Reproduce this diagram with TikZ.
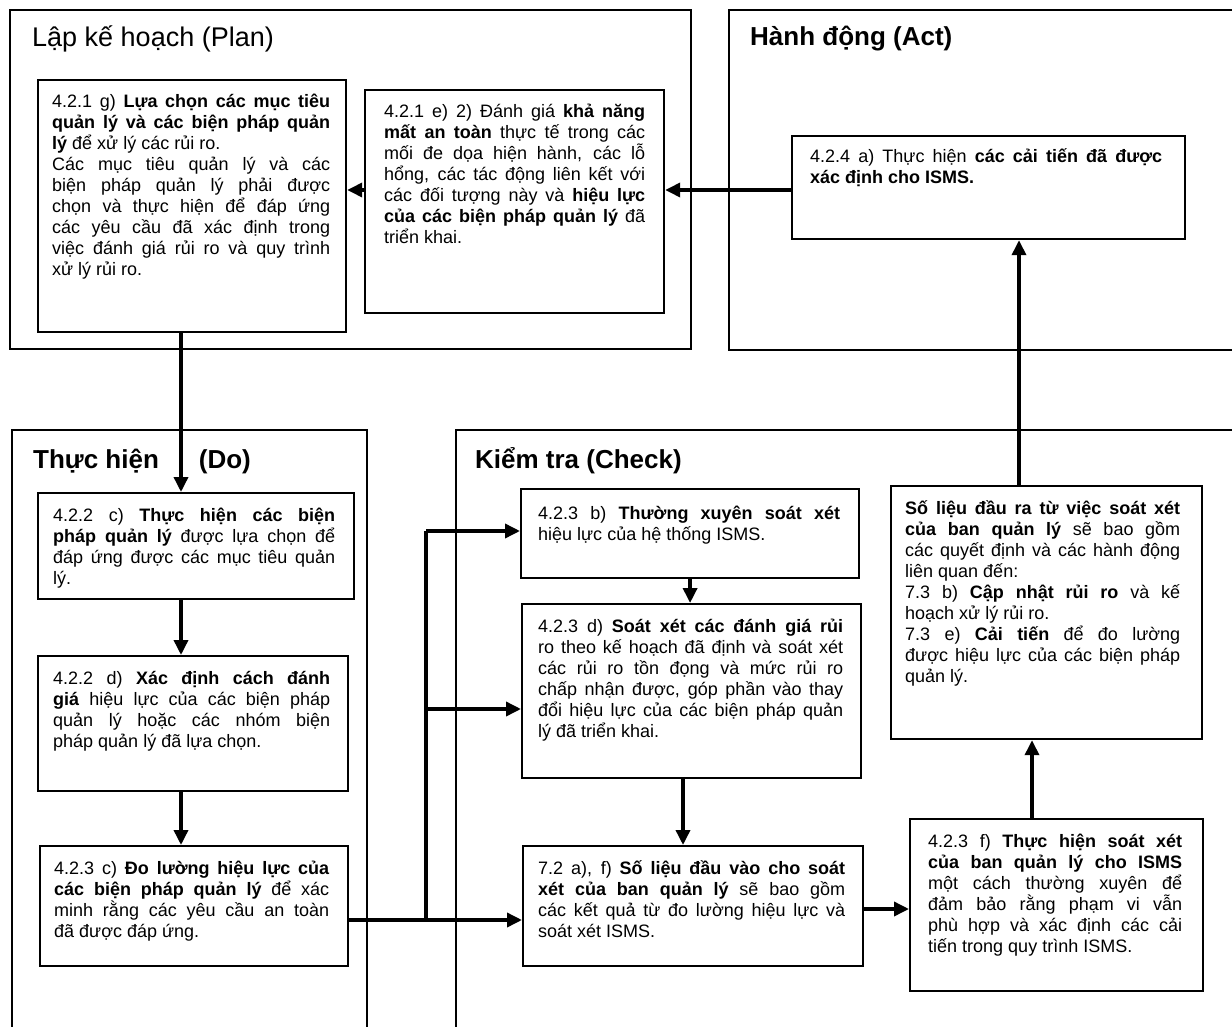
\documentclass[tikz,border=0pt]{standalone}
\usepackage{fontspec}
\setmainfont{Liberation Sans}
\usetikzlibrary{arrows.meta,positioning,calc}

\begin{document}
\begin{tikzpicture}[x=1pt,y=-1pt,
    frame/.style={line width=1.5pt},
    box/.style={draw,line width=2.2pt,anchor=north west,inner sep=0pt},
    txt/.style={anchor=base west,inner sep=0pt,align=justify,font=\fontsize{18}{21}\selectfont},
    title/.style={anchor=base west,inner sep=0pt,font=\fontsize{26}{30}\selectfont\bfseries},
    conn/.style={line width=3.5pt,-{Triangle[length=15pt,width=14pt]}},
    wire/.style={line width=3.5pt}]
    \clip (0,0) rectangle (1232,1027);
    \fill[white] (0,0) rectangle (1232,1027);

    % the four PDCA frames
    \draw[frame] (10,10) rectangle (691,349);
    \draw[frame] (729,10) rectangle (1245,350);
    \draw[frame] (12,430) rectangle (367,1045);
    \draw[frame] (456,430) rectangle (1245,1045);

    \node[title,font=\fontsize{27}{30}\selectfont] (plantitle) at (32,47) {Lập kế hoạch (Plan)};
    \node[title] (acttitle) at (750,46) {Hành động (Act)};
    \node[title] (dotitle) at (33,468) {Thực hiện\hspace{40pt}(Do)};
    \node[title] (checktitle) at (475,468) {Kiểm tra (Check)};

    % Plan
    \node[box,minimum width=308,minimum height=252] (g) at (37,79) {};
    \node[txt,text width=278] (gt) at ($(g.north west)+(15,29)$)
        {4.2.1 g) \textbf{Lựa chọn các mục tiêu\linebreak quản lý và các biện pháp quản\linebreak lý} để xử lý các rủi ro.\par
         Các mục tiêu quản lý và các\linebreak biện pháp quản lý phải được\linebreak chọn và thực hiện để đáp ứng\linebreak các yêu cầu đã xác định trong\linebreak việc đánh giá rủi ro và quy trình\linebreak xử lý rủi ro.};
    \node[box,minimum width=299,minimum height=223] (e) at (364,89) {};
    \node[txt,text width=261] (et) at ($(e.north west)+(20,29)$)
        {4.2.1 e) 2) Đánh giá \textbf{khả năng\linebreak mất an toàn} thực tế trong các\linebreak mối đe dọa hiện hành, các lỗ\linebreak hổng, các tác động liên kết với\linebreak các đối tượng này và \textbf{hiệu lực\linebreak của các biện pháp quản lý} đã\linebreak triển khai.};

    % Act
    \node[box,minimum width=393,minimum height=103] (a) at (791,135) {};
    \node[txt,text width=352] (at) at ($(a.north west)+(19,28)$)
        {4.2.4 a) Thực hiện \textbf{các cải tiến đã được\linebreak xác định cho ISMS.}};

    % Do
    \node[box,minimum width=316,minimum height=106] (c) at (37,492) {};
    \node[txt,text width=282] (ct) at ($(c.north west)+(16,29)$)
        {4.2.2 c) \textbf{Thực hiện các biện\linebreak pháp quản lý} được lựa chọn để\linebreak đáp ứng được các mục tiêu quản\linebreak lý.};
    \node[box,minimum width=310,minimum height=135] (d) at (37,655) {};
    \node[txt,text width=277] (dt) at ($(d.north west)+(16,29)$)
        {4.2.2 d) \textbf{Xác định cách đánh\linebreak giá} hiệu lực của các biện pháp\linebreak quản lý hoặc các nhóm biện\linebreak pháp quản lý đã lựa chọn.};
    \node[box,minimum width=308,minimum height=120] (m) at (39,845) {};
    \node[txt,text width=275] (mt) at ($(m.north west)+(15,29)$)
        {4.2.3 c) \textbf{Đo lường hiệu lực của\linebreak các biện pháp quản lý} để xác\linebreak minh rằng các yêu cầu an toàn\linebreak đã được đáp ứng.};

    % Check
    \node[box,minimum width=338,minimum height=89] (b) at (520,488) {};
    \node[txt,text width=302] (bt) at ($(b.north west)+(18,31)$)
        {4.2.3 b) \textbf{Thường xuyên soát xét}\linebreak hiệu lực của hệ thống ISMS.};
    \node[box,minimum width=339,minimum height=174] (rd) at (521,603) {};
    \node[txt,text width=305] (rdt) at ($(rd.north west)+(17,29)$)
        {4.2.3 d) \textbf{Soát xét các đánh giá rủi}\linebreak ro theo kế hoạch đã định và soát xét\linebreak các rủi ro tồn đọng và mức rủi ro\linebreak chấp nhận được, góp phần vào thay\linebreak đổi hiệu lực của các biện pháp quản\linebreak lý đã triển khai.};
    \node[box,minimum width=340,minimum height=120] (in72) at (522,845) {};
    \node[txt,text width=307] (in72t) at ($(in72.north west)+(16,29)$)
        {7.2 a), f) \textbf{Số liệu đầu vào cho soát\linebreak xét của ban quản lý} sẽ bao gồm\linebreak các kết quả từ đo lường hiệu lực và\linebreak soát xét ISMS.};
    \node[box,minimum width=311,minimum height=253] (out) at (890,485) {};
    \node[txt,text width=275] (outt) at ($(out.north west)+(15,29)$)
        {\textbf{Số liệu đầu ra từ việc soát xét\linebreak của ban quản lý} sẽ bao gồm\linebreak các quyết định và các hành động\linebreak liên quan đến:\par
         7.3 b) \textbf{Cập nhật rủi ro} và kế\linebreak hoạch xử lý rủi ro.\par
         7.3 e) \textbf{Cải tiến} để đo lường\linebreak được hiệu lực của các biện pháp\linebreak quản lý.};
    \node[box,minimum width=293,minimum height=172] (f) at (909,818) {};
    \node[txt,text width=254] (ft) at ($(f.north west)+(19,29)$)
        {4.2.3 f) \textbf{Thực hiện soát xét\linebreak của ban quản lý cho ISMS}\linebreak một cách thường xuyên để\linebreak đảm bảo rằng phạm vi vẫn\linebreak phù hợp và xác định các cải\linebreak tiến trong quy trình ISMS.};

    % connectors
    \coordinate (docol) at (181,0);
    \coordinate (chkcol) at (683,0);
    \coordinate (upF) at (1032,0);
    \coordinate (upA) at (1019,0);
    \coordinate (busA) at (426,920);
    \coordinate (busB) at (426,709);
    \coordinate (busC) at (426,531);

    \draw[conn] (a.west |- 0,190) -- (e.east |- 0,190);
    \draw[conn] (e.west |- 0,190) -- (g.east |- 0,190);
    \draw[conn] (g.south -| docol) -- (c.north -| docol);
    \draw[conn] (c.south -| docol) -- (d.north -| docol);
    \draw[conn] (d.south -| docol) -- (m.north -| docol);
    \draw[wire] (m.east |- busA) -- (busA) -- (busC);
    \draw[conn] (busA) -- (in72.west |- busA);
    \draw[conn] (busB) -- (rd.west |- busB);
    \draw[conn] (busC) -- (b.west |- busC);
    \draw[conn] (b.south) -- (b.south |- rd.north);
    \draw[conn] (rd.south -| chkcol) -- (in72.north -| chkcol);
    \draw[conn] (in72.east |- 0,909) -- (f.west |- 0,909);
    \draw[conn] (f.north -| upF) -- (out.south -| upF);
    \draw[conn] (out.north -| upA) -- (a.south -| upA);
\end{tikzpicture}
\end{document}
